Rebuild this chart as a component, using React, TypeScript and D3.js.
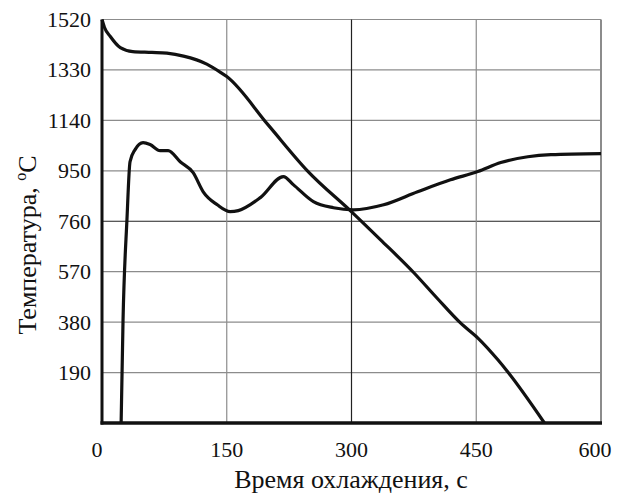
import React from "react";
import * as d3 from "d3";

const coolingTime = [0, 3, 10, 22, 37, 60, 78, 98, 126, 142, 150, 200, 247, 302, 335, 375, 403, 431, 452, 476, 488, 532];
const coolingTemp = [1520, 1490, 1456, 1414, 1399, 1396, 1393, 1382, 1352, 1322, 1305, 1122, 950, 790, 690, 566, 470, 377, 320, 238, 192, 0];

const heatingTime = [23, 25.3, 30, 33.7, 39.8, 49.4, 57.8, 69.9, 79.5, 94, 109.6, 121.7, 138.6, 154.2, 163.9, 190.4, 218.1, 230, 254.2, 278.3, 302.4, 338.6, 379.5, 419, 451.8, 479.5, 512, 539.8, 600];
const heatingTemp = [0, 388, 766, 984, 1030, 1056, 1049, 1026, 1026, 984, 943, 871, 822, 796, 800, 849, 928, 898, 834, 811, 803, 822, 871, 916, 947, 981, 1003, 1011, 1015];

const yTicks = [190, 380, 570, 760, 950, 1140, 1330, 1520];
const xTicks = [0, 150, 300, 450, 600];
const xTitle = "Время охлаждения, с";
const yTitle = "Температура, ";

const W = 624;
const H = 496;
const FONT = '"Liberation Serif", "Times New Roman", serif';

export default function App() {
  const x = d3.scaleLinear().domain([0, 600]).range([102, 601]);
  const y = d3.scaleLinear().domain([0, 1520]).range([423, 19.5]);

  const line = d3
    .line<[number, number]>()
    .x((d) => x(d[0]))
    .y((d) => y(d[1]))
    .curve(d3.curveMonotoneX);

  const cooling = coolingTime.map((t, i) => [t, coolingTemp[i]] as [number, number]);
  const heating = heatingTime.map((t, i) => [t, heatingTemp[i]] as [number, number]);

  const darkY = new Set([760]);
  const darkX = new Set([300]);

  return (
    <svg
      width={W}
      height={H}
      style={{ position: "absolute", left: 0, top: 0, background: "#fff" }}
      fontFamily={FONT}
    >
      <rect x={0} y={0} width={W} height={H} fill="#fff" />
      {yTicks.map((v) => (
        <line
          key={"gy" + v}
          x1={x(0)}
          x2={x(600)}
          y1={y(v)}
          y2={y(v)}
          stroke={darkY.has(v) ? "#222" : "#8c8c8c"}
          strokeWidth={1.2}
        />
      ))}
      {xTicks
        .filter((v) => v > 0 && v < 600)
        .map((v) => (
          <line
            key={"gx" + v}
            x1={x(v)}
            x2={x(v)}
            y1={y(1520)}
            y2={y(0)}
            stroke={darkX.has(v) ? "#222" : "#8c8c8c"}
            strokeWidth={1.2}
          />
        ))}
      <line x1={x(600)} x2={x(600)} y1={y(1520)} y2={y(0)} stroke="#8c8c8c" strokeWidth={2} />
      <path d={line(cooling) || ""} fill="none" stroke="#111" strokeWidth={3.2} strokeLinejoin="round" />
      <path d={line(heating) || ""} fill="none" stroke="#111" strokeWidth={3.2} strokeLinejoin="round" />
      <line x1={x(0)} x2={x(0)} y1={y(1520)} y2={y(0) + 1.5} stroke="#111" strokeWidth={3} />
      <line x1={x(0) - 1.5} x2={x(600) + 1} y1={y(0)} y2={y(0)} stroke="#111" strokeWidth={3.5} />
      {yTicks.map((v) => (
        <text key={"ty" + v} x={91} y={y(v) + 7.5} textAnchor="end" fontSize={22} fill="#111">
          {v}
        </text>
      ))}
      {xTicks.map((v) => (
        <text
          key={"tx" + v}
          x={x(v) + (v === 0 ? -5 : v === 600 ? -6 : 0)}
          y={457}
          textAnchor="middle"
          fontSize={22}
          fill="#111"
        >
          {v}
        </text>
      ))}
      <text x={351} y={488} textAnchor="middle" fontSize={26} fill="#111">
        {xTitle}
      </text>
      <text transform="translate(36,245) rotate(-90)" textAnchor="middle" fontSize={26} fill="#111">
        {yTitle}
        <tspan fontSize={16} dy={-10}>o</tspan>
        <tspan dy={10}>C</tspan>
      </text>
    </svg>
  );
}
